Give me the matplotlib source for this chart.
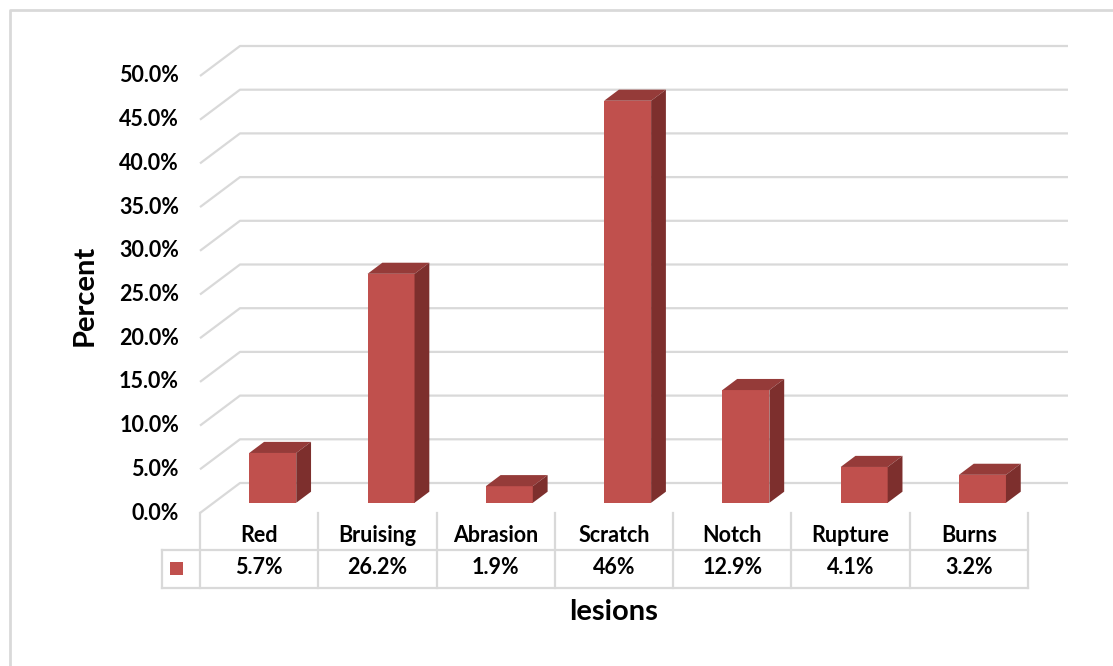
import matplotlib
matplotlib.use("Agg")
import matplotlib.pyplot as plt
import matplotlib.transforms as mtransforms
from matplotlib.patches import Polygon, Rectangle

# data
categories = ["Red", "Bruising", "Abrasion", "Scratch", "Notch", "Rupture", "Burns"]
percents = [5.7, 26.2, 1.9, 46.0, 12.9, 4.1, 3.2]
value_labels = ["5.7%", "26.2%", "1.9%", "46%", "12.9%", "4.1%", "3.2%"]
y_ticks = [0, 5, 10, 15, 20, 25, 30, 35, 40, 45, 50]

plt.rcParams["font.family"] = ["Lato", "DejaVu Sans"]
plt.rcParams["font.weight"] = "bold"

FRONT = "#C0504D"
TOP = "#953B39"
SIDE = "#7D2F2D"
GRID = "#D9D9D9"

W, H = 1113, 666
fig = plt.figure(figsize=(W / 100, H / 100), dpi=100)
fig.patch.set_facecolor("white")

# overlay in pixel units for frame, table lines, titles
ov = fig.add_axes([0, 0, 1, 1])
ov.set_xlim(0, W)
ov.set_ylim(H, 0)
ov.axis("off")

# main axes = front plane of the 3d plot
left, right, top, bottom = 200, 1028, 76, 513
ax = fig.add_axes([left / W, 1 - bottom / H, (right - left) / W, (bottom - top) / H])
ax.set_xlim(-0.5, len(categories) - 0.5)
ax.set_ylim(0, 50)
ax.axis("off")
ax.patch.set_alpha(0)

px_cat = (right - left) / len(categories)
px_pct = (bottom - top) / 50.0
ddx = 40 / px_cat   # depth of the plot, in data units
ddy = 30 / px_pct
f0, fd = 0.34, 0.37  # bar position / thickness inside the depth
bw = 47 / px_cat

FS = 15.5
xmax = len(categories) - 0.5
for v in y_ticks:
    ax.plot([-0.5, -0.5 + ddx, xmax + ddx], [v, v + ddy, v + ddy],
            color=GRID, lw=1.6, clip_on=False, zorder=1, solid_capstyle="butt")
    ax.annotate(f"{v:.1f}%", xy=(-0.5, v), xytext=(-21, 0), textcoords="offset pixels",
                ha="right", va="center", fontsize=FS, fontweight="bold", color="black")

for i, v in enumerate(percents):
    x0 = i - bw / 2 + f0 * ddx
    y0 = f0 * ddy
    y1 = y0 + v
    dx, dy = fd * ddx, fd * ddy
    ax.add_patch(Rectangle((x0, y0), bw, v, facecolor=FRONT, edgecolor="none", zorder=3, clip_on=False))
    ax.add_patch(Polygon([(x0, y1), (x0 + bw, y1), (x0 + bw + dx, y1 + dy), (x0 + dx, y1 + dy)],
                         closed=True, facecolor=TOP, edgecolor="none", zorder=3, clip_on=False))
    ax.add_patch(Polygon([(x0 + bw, y0), (x0 + bw + dx, y0 + dy), (x0 + bw + dx, y1 + dy), (x0 + bw, y1)],
                         closed=True, facecolor=SIDE, edgecolor="none", zorder=3, clip_on=False))

# data table under the plot
tr = mtransforms.blended_transform_factory(ax.transData, ov.transData)
for k in range(len(categories) + 1):
    ov.plot([k - 0.5, k - 0.5], [bottom, 588], color=GRID, lw=1.6, transform=tr, clip_on=False)
ov.plot([162, 162], [550, 588], color=GRID, lw=1.6)
ov.plot([162, right], [550, 550], color=GRID, lw=1.6)
ov.plot([162, right], [588, 588], color=GRID, lw=1.6)
for i, (c, lab) in enumerate(zip(categories, value_labels)):
    ov.text(i, 536, c, transform=tr, ha="center", va="center", fontsize=FS, fontweight="bold")
    ov.text(i, 568, lab, transform=tr, ha="center", va="center", fontsize=FS, fontweight="bold")
ov.add_patch(Rectangle((170, 562), 13, 13, facecolor=FRONT, edgecolor="none"))

# titles
ov.text(85, 295, "Percent", rotation=90, ha="center", va="center", fontsize=21, fontweight="bold")
ov.text(614, 612, "lesions", ha="center", va="center", fontsize=21, fontweight="bold")

# chart border
ov.plot([10, 10, W], [H, 10, 10], color=GRID, lw=2)

fig.savefig("out.png", dpi=100)
